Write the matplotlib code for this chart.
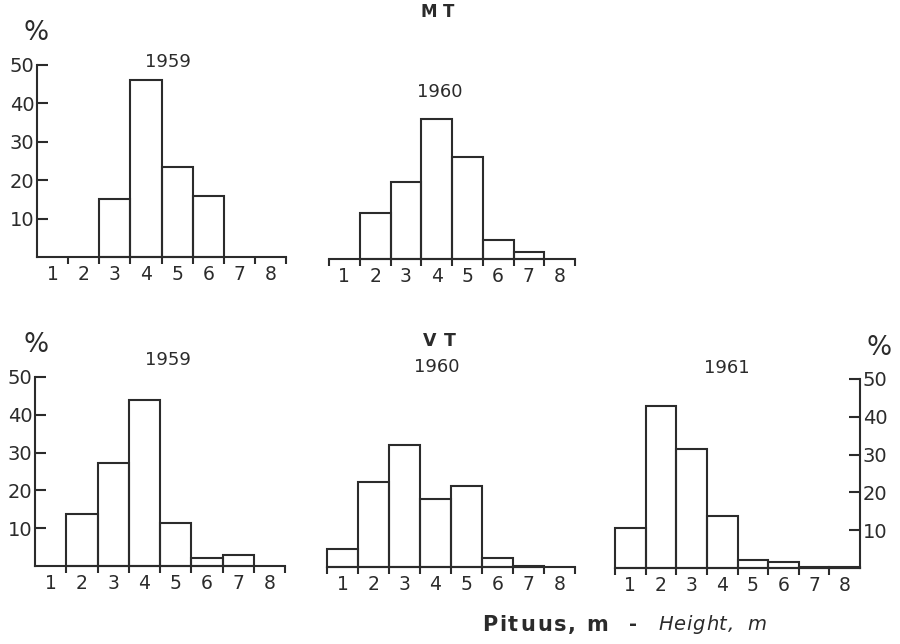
import numpy as np
import matplotlib
matplotlib.use("Agg")
from matplotlib import pyplot as plt

## Data: percentage of trees per height class ##
heights = [1, 2, 3, 4, 5, 6, 7, 8]
mt_1959 = [0, 0, 15, 46, 23.5, 16, 0, 0]
mt_1960 = [0, 12, 20, 36.5, 26.5, 5, 1.7, 0]
vt_1959 = [0, 13.7, 27.2, 43.8, 11.5, 2, 2.8, 0]
vt_1960 = [4.8, 22.5, 32.4, 18, 21.5, 2.5, 0.3, 0]
vt_1961 = [10.6, 42.8, 31.6, 13.7, 2.2, 1.5, 0.3, 0.2]
yticks = [10, 20, 30, 40, 50]

W, H = 900, 644
ink = '#2b2b2b'
lw = 1.5
plt.rcParams['font.family'] = ['DejaVu Sans']

fig = plt.figure(figsize=(W/100, H/100), dpi=100)
fig.patch.set_facecolor('white')
renderer = fig.canvas.get_renderer()

def box(x0, x1, ybase, ytop):
    # pixel box -> figure fraction
    return [x0/W, 1-ybase/H, (x1-x0)/W, (ybase-ytop)/H]

def txt(x, y, s, **kw):
    return fig.text(x/W, 1-y/H, s, color=ink, **kw)

def spaced(x0, x1, y, s, **kw):
    # letter-spaced word stretched between x0 and x1 (pixels)
    parts = [txt(0, y, ch, ha='left', va='center', **kw) for ch in s]
    widths = [p.get_window_extent(renderer).width for p in parts]
    gap = (x1 - x0 - sum(widths)) / max(len(s) - 1, 1)
    x = x0
    for p, w in zip(parts, widths):
        p.set_x(x/W)
        x += w + gap

def panel(rect, vals, yaxis=None, edge_ticks=range(0, 9)):
    ax = fig.add_axes(rect)
    ax.set_xlim(0, 8)
    ax.set_ylim(0, 50)
    ax.patch.set_alpha(0)
    x = np.arange(len(heights))
    for xi, v in zip(x, vals):
        if v > 0:
            ax.bar(xi, v, width=1, align='edge', facecolor='none',
                   edgecolor=ink, linewidth=lw, clip_on=False)
    for s in ['top', 'left', 'right']:
        ax.spines[s].set_visible(False)
    ax.spines['bottom'].set_color(ink)
    ax.spines['bottom'].set_linewidth(lw)
    ax.set_xticks(list(edge_ticks))
    ax.set_xticklabels([])
    ax.set_xticks(x + 0.5, minor=True)
    ax.set_xticklabels([str(h) for h in heights], minor=True)
    ax.tick_params(axis='x', which='major', direction='out', length=5,
                   width=lw, color=ink)
    ax.tick_params(axis='x', which='minor', length=0, pad=6,
                   labelsize=13.5, labelcolor=ink)
    if yaxis is None:
        ax.set_yticks([])
    else:
        ax.spines[yaxis].set_visible(True)
        ax.spines[yaxis].set_color(ink)
        ax.spines[yaxis].set_linewidth(lw)
        ax.set_yticks(yticks)
        ax.set_yticklabels([str(t) for t in yticks])
        if yaxis == 'right':
            ax.yaxis.tick_right()
        ax.tick_params(axis='y', direction='in', length=8, width=lw,
                       color=ink, labelsize=14, labelcolor=ink, pad=2)
    return ax

panel(box(37, 286, 257, 65), mt_1959, yaxis='left', edge_ticks=range(1, 9))
panel(box(329, 575, 259, 67), mt_1960)
panel(box(35, 285, 566, 377), vt_1959, yaxis='left', edge_ticks=range(1, 9))
panel(box(327, 575, 567, 378), vt_1960)
panel(box(615, 860, 568, 379), vt_1961, yaxis='right', edge_ticks=range(0, 8))

## Titles and labels ##
spaced(421, 454, 12, 'MT', fontsize=12, fontweight='bold')
spaced(423, 456, 341, 'VT', fontsize=12.5, fontweight='bold')
txt(36, 33, '%', ha='center', va='center', fontsize=19)
txt(36, 345, '%', ha='center', va='center', fontsize=19)
txt(879, 348, '%', ha='center', va='center', fontsize=19)
txt(168, 62, '1959', ha='center', va='center', fontsize=13)
txt(440, 92, '1960', ha='center', va='center', fontsize=13)
txt(168, 360, '1959', ha='center', va='center', fontsize=13)
txt(437, 367, '1960', ha='center', va='center', fontsize=13)
txt(727, 368, '1961', ha='center', va='center', fontsize=13)

spaced(482, 576, 625, 'Pituus,', fontsize=15, fontweight='bold')
spaced(586, 604, 625, 'm', fontsize=15, fontweight='bold')
txt(633, 625, '-', ha='center', va='center', fontsize=14, fontweight='bold')
spaced(658, 734, 625, 'Height,', fontsize=14, fontstyle='italic')
spaced(747, 767, 625, 'm', fontsize=14, fontstyle='italic')

fig.savefig('out.png', dpi=100, facecolor='white')
